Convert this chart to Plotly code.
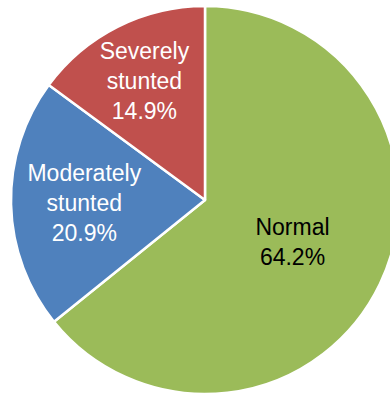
import plotly.graph_objects as go

# Stunting status shares (%)
categories = ["Normal", "Moderately stunted", "Severely stunted"]
label_lines = ["Normal", "Moderately<br>stunted", "Severely<br>stunted"]
shares = [64.2, 20.9, 14.9]
colors = ["#9BBB59", "#4F81BD", "#C0504D"]
text_colors = ["#000000", "#FFFFFF", "#FFFFFF"]

fig = go.Figure(
    go.Pie(
        labels=categories,
        values=shares,
        text=label_lines,
        texttemplate="%{text}<br>%{value:.1f}%",
        textposition="inside",
        insidetextorientation="horizontal",
        insidetextfont=dict(family="Liberation Sans, Arial, sans-serif", size=23, color=text_colors),
        marker=dict(colors=colors, line=dict(color="#FFFFFF", width=2.5)),
        sort=False,
        direction="clockwise",
        rotation=0,
        hoverinfo="label+percent",
        domain=dict(x=[0, 1], y=[0, 388 / 394]),
        showlegend=False,
    )
)

fig.update_layout(
    width=410,
    height=394,
    margin=dict(l=0, r=0, t=0, b=0),
    paper_bgcolor="#FFFFFF",
    plot_bgcolor="#FFFFFF",
    uniformtext=dict(minsize=23, mode="show"),
)

fig.write_html(
    "out.html",
    post_script="document.body.style.margin='0';document.body.style.overflow='hidden';",
)
